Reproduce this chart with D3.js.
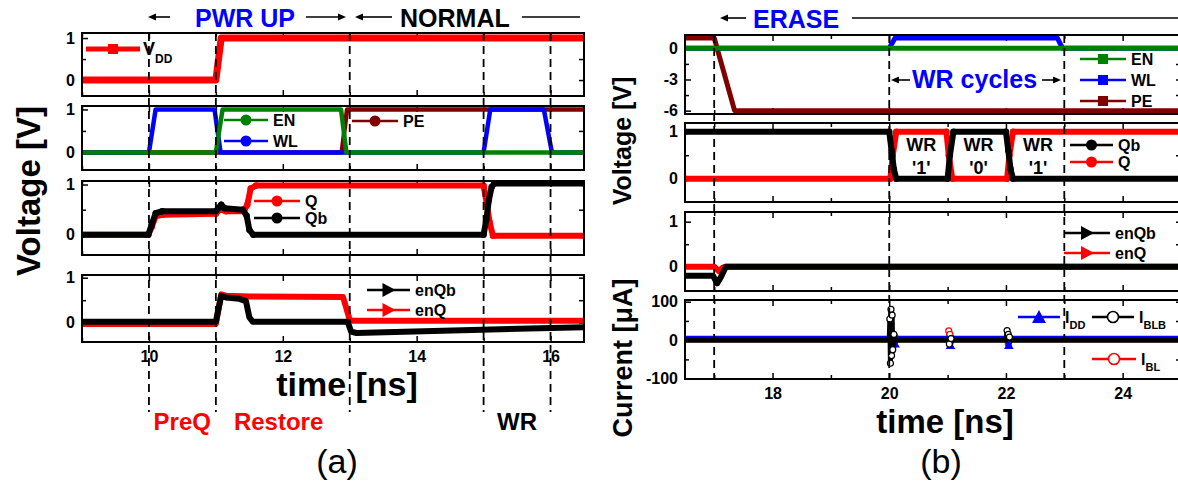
<!DOCTYPE html>
<html>
<head>
<meta charset="utf-8">
<script src="https://cdn.jsdelivr.net/npm/d3@7"></script>
<style>
  body { margin: 0; background: #fff; }
  text { font-family: "Liberation Sans", Arial, sans-serif; }
</style>
</head>
<body>
<svg id="chart" width="1178" height="484"></svg>
<script>
/* waveforms, [time ns, value] */

// (a) power-up / normal
var vddA   = [[9,0],[11.0,0],[11.08,1],[16.5,1]];
var wlA    = [[9,0],[10.0,0],[10.1,1],[10.98,1],[11.07,0],[15.0,0],[15.1,1],[15.9,1],[16.02,0],[16.5,0]];
var enA    = [[9,0],[11.0,0],[11.1,1],[12.87,1],[12.95,0],[16.5,0]];
var peA    = [[9,0],[12.88,0],[12.96,1],[16.5,1]];
var qA     = [[9,0],[9.99,0],[10.04,0.15],[10.1,0.37],[10.2,0.4],[11.0,0.42],[11.06,0.5],[11.15,0.47],[11.42,0.47],[11.47,0.6],[11.52,0.92],[11.6,0.98],[15.0,0.98],[15.05,0.6],[15.09,0.25],[15.14,-0.02],[16.5,-0.02]];
var qbA    = [[9,0],[9.99,0],[10.04,0.2],[10.1,0.43],[10.2,0.47],[11.0,0.47],[11.04,0.54],[11.08,0.6],[11.13,0.53],[11.4,0.5],[11.46,0.38],[11.5,0.1],[11.56,0],[15.0,0],[15.04,0.3],[15.08,0.7],[15.12,0.95],[15.16,1.02],[16.5,1.02]];
var enqbA  = [[9,0.02],[11.0,0.02],[11.08,0.6],[11.15,0.56],[11.35,0.53],[11.45,0.48],[11.5,0.12],[11.55,0.02],[12.97,0.02],[13.02,-0.2],[13.1,-0.23],[16.5,-0.1]];
var enqA   = [[9,-0.03],[11.0,-0.03],[11.08,0.63],[11.15,0.6],[11.5,0.58],[12.9,0.57],[13.0,0.06],[13.05,0.04],[16.5,0.04]];

// (b) erase / write cycles
var peB    = [[16.5,1],[17.0,1],[17.35,-6],[25,-6]];
var enB    = [[16.5,0],[25,0]];
var wlB    = [[16.5,0],[20.0,0],[20.1,1],[22.88,1],[22.97,0],[25,0]];
var qB     = [[16.5,0],[20.02,0],[20.06,0.5],[20.12,1],[20.98,1],[21.02,0.5],[21.08,0],[22.02,0],[22.06,0.5],[22.12,1],[25,1]];
var qbB    = [[16.5,1],[20.0,1],[20.04,0.6],[20.08,0.2],[20.12,0],[21.0,0],[21.04,0.5],[21.1,1],[22.0,1],[22.04,0.6],[22.08,0.2],[22.12,0],[25,0]];
var enqbB  = [[16.5,-0.2],[16.98,-0.2],[17.05,-0.37],[17.12,-0.22],[17.2,0],[25,0]];
var enqB   = [[16.5,0],[17.0,0],[17.08,-0.1],[17.15,-0.02],[17.2,0],[25,0]];
var iddB   = [[16.5,6],[20.06,6],[20.1,-12],[20.15,6],[21.0,6],[21.05,-16],[21.1,6],[22.0,6],[22.05,-16],[22.1,6],[25,6]];
var iblbB  = [[16.5,0],[20.0,0],[20.01,55],[20.02,-60],[20.03,80],[20.04,-40],[20.05,65],[20.06,-25],[20.08,15],[20.1,0],[21.0,0],[21.03,-10],[21.06,4],[21.1,0],[22.0,0],[22.02,25],[22.04,15],[22.06,8],[22.1,0],[25,0]];
var iblB   = [[16.5,0],[20.05,0],[20.07,-14],[20.1,8],[20.13,0],[21.0,0],[21.02,24],[21.04,15],[21.07,5],[21.1,0],[22.0,0],[22.04,-10],[22.08,0],[25,0]];

// ticks and markers
var xTicksA = [10, 12, 14, 16], xMinorA = [9, 11, 13, 15];
var xTicksB = [18, 20, 22, 24], xMinorB = [17, 19, 21, 23, 25];
var vTicks = [0, 1], vMinor = [0.5];
var peTicks = [0, -3, -6], peMinor = [-1.5, -4.5];
var iTicks = [-100, 0, 100], iMinor = [-50, 50];
var phaseA = [10, 11, 13, 15, 16];
var phaseB = [17, 20, 23];
var phaseLabels = ["PreQ", "Restore", "WR"];
var wrBits = ["'1'", "'0'", "'1'"];

var RED = "#ff0000", BLUE = "#0000ff", GREEN = "#008000", MAROON = "#800000", BLK = "#000";

var svg = d3.select("#chart");
var xA = d3.scaleLinear().domain([9, 16.5]).range([82, 584]);
var xB = d3.scaleLinear().domain([16.5, 25]).range([685, 1181]);
var clipN = 0;

function styleAxis(g, size) {
  g.attr("font-family", null).attr("font-size", null);
  g.selectAll("text").filter(function() { return this.textContent === ""; }).remove();
  g.selectAll("text").attr("font-size", size || 16).attr("font-weight", "bold").attr("fill", "#000");
  g.selectAll(".domain").remove();
  g.selectAll("line").attr("stroke", "#000").attr("stroke-width", 1.5);
}

// one framed panel with inward ticks; returns y scale and a clipped group
function panel(x, top, bottom, ydom, yt, ym, xt, xm, showX) {
  var y = d3.scaleLinear().domain(ydom).range([bottom, top]);
  var x0 = x.range()[0], x1 = x.range()[1];
  var fmt = function(d) { return String(d); };
  var g = svg.append("g");
  g.append("g").attr("transform", "translate(" + x0 + ",0)")
    .call(d3.axisLeft(y).tickValues(yt).tickSize(-6).tickSizeOuter(0).tickPadding(7).tickFormat(fmt)).call(styleAxis);
  g.append("g").attr("transform", "translate(" + x0 + ",0)")
    .call(d3.axisLeft(y).tickValues(ym).tickSize(-4).tickSizeOuter(0).tickFormat("")).call(styleAxis);
  g.append("g").attr("transform", "translate(" + x1 + ",0)")
    .call(d3.axisRight(y).tickValues(yt.concat(ym)).tickSize(-5).tickSizeOuter(0).tickFormat("")).call(styleAxis);
  g.append("g").attr("transform", "translate(0," + bottom + ")")
    .call(d3.axisBottom(x).tickValues(xt).tickSize(-6).tickSizeOuter(0).tickPadding(9).tickFormat(showX ? fmt : "")).call(styleAxis);
  g.append("g").attr("transform", "translate(0," + bottom + ")")
    .call(d3.axisBottom(x).tickValues(xm).tickSize(-4).tickSizeOuter(0).tickFormat("")).call(styleAxis);
  g.append("g").attr("transform", "translate(0," + top + ")")
    .call(d3.axisTop(x).tickValues(xt).tickSize(-6).tickSizeOuter(0).tickFormat("")).call(styleAxis);
  g.append("g").attr("transform", "translate(0," + top + ")")
    .call(d3.axisTop(x).tickValues(xm).tickSize(-4).tickSizeOuter(0).tickFormat("")).call(styleAxis);

  var id = "clip" + (clipN++);
  svg.append("clipPath").attr("id", id).append("rect")
    .attr("x", x0).attr("y", top).attr("width", x1 - x0).attr("height", bottom - top);
  var data = svg.append("g").attr("clip-path", "url(#" + id + ")");
  svg.append("rect").attr("x", x0).attr("y", top).attr("width", x1 - x0).attr("height", bottom - top)
    .attr("fill", "none").attr("stroke", "#000").attr("stroke-width", 2);
  return { y: y, g: data };
}

function trace(p, x, pts, color, w, dots) {
  var line = d3.line().x(function(d) { return x(d[0]); }).y(function(d) { return p.y(d[1]); });
  p.g.append("path").datum(pts).attr("d", line).attr("fill", "none")
    .attr("stroke", color).attr("stroke-width", w).attr("stroke-linejoin", "round");
  if (dots === "dot") {
    p.g.selectAll(null).data(pts).enter().append("circle")
      .attr("cx", function(d) { return x(d[0]); }).attr("cy", function(d) { return p.y(d[1]); })
      .attr("r", 3.2).attr("fill", color);
  } else if (dots === "ring") {
    p.g.selectAll(null).data(pts.filter(function(d) { return Math.abs(d[1]) > 1; })).enter().append("circle")
      .attr("cx", function(d) { return x(d[0]); }).attr("cy", function(d) { return p.y(d[1]); })
      .attr("r", 3).attr("fill", "#fff").attr("stroke", color).attr("stroke-width", 1.2);
  } else if (dots === "tri") {
    p.g.selectAll(null).data(pts.filter(function(d) { return Math.abs(d[1] - 6) > 1; })).enter().append("path")
      .attr("d", d3.symbol(d3.symbolTriangle, 40))
      .attr("transform", function(d) { return "translate(" + x(d[0]) + "," + p.y(d[1]) + ")"; })
      .attr("fill", color);
  }
}

function marker(g, type, cx, cy, color) {
  if (type === "square") {
    g.append("rect").attr("x", cx - 5).attr("y", cy - 5).attr("width", 10).attr("height", 10).attr("fill", color);
  } else if (type === "circle") {
    g.append("circle").attr("cx", cx).attr("cy", cy).attr("r", 5.5).attr("fill", color);
  } else if (type === "ring") {
    g.append("circle").attr("cx", cx).attr("cy", cy).attr("r", 5.5).attr("fill", "#fff").attr("stroke", color).attr("stroke-width", 1.6);
  } else if (type === "triR") {
    g.append("path").attr("d", "M" + (cx - 6) + "," + (cy - 7) + "L" + (cx + 7) + "," + cy + "L" + (cx - 6) + "," + (cy + 7) + "Z").attr("fill", color);
  } else if (type === "triU") {
    g.append("path").attr("d", "M" + (cx - 7) + "," + (cy + 6) + "L" + cx + "," + (cy - 7) + "L" + (cx + 7) + "," + (cy + 6) + "Z").attr("fill", color);
  }
}

function legend(x1, x2, y, color, type, label, sub, fs) {
  var g = svg.append("g");
  g.append("line").attr("x1", x1).attr("x2", x2).attr("y1", y).attr("y2", y)
    .attr("stroke", color).attr("stroke-width", type === "square" && x2 - x1 > 50 ? 5 : 2.5);
  marker(g, type, (x1 + x2) / 2, y, color);
  if (!label) return;
  var t = g.append("text").attr("x", x2 + 5).attr("y", y).attr("dy", "0.36em")
    .attr("font-size", fs || 16).attr("font-weight", "bold").text(label);
  if (sub) t.append("tspan").attr("font-size", 11).attr("dy", "0.55em").text(sub);
}

/* ---------- panel (a) ---------- */
var a1 = panel(xA, 33, 96, [-0.38, 1.12], vTicks, vMinor, xTicksA, xMinorA, false);
trace(a1, xA, vddA, RED, 7);

var a2 = panel(xA, 106, 170, [-0.41, 1.08], vTicks, vMinor, xTicksA, xMinorA, false);
trace(a2, xA, peA, MAROON, 4.5);
trace(a2, xA, wlA, BLUE, 4.5);
trace(a2, xA, enA, GREEN, 4.5);

var a3 = panel(xA, 181, 255, [-0.4, 1.07], vTicks, vMinor, xTicksA, xMinorA, false);
trace(a3, xA, qA, RED, 6, "dot");
trace(a3, xA, qbA, BLK, 6, "dot");

var a4 = panel(xA, 275, 342, [-0.43, 1.06], vTicks, vMinor, xTicksA, xMinorA, true);
trace(a4, xA, enqA, RED, 6);
trace(a4, xA, enqbA, BLK, 6);

/* ---------- panel (b) ---------- */
var b1 = panel(xB, 35, 114, [-6.32, 1.28], peTicks, peMinor, xTicksB, xMinorB, false);
trace(b1, xB, peB, MAROON, 5);
trace(b1, xB, wlB, BLUE, 5);
trace(b1, xB, enB, GREEN, 5);

var b2 = panel(xB, 123, 202, [-0.495, 1.185], vTicks, vMinor, xTicksB, xMinorB, false);
trace(b2, xB, qB, RED, 6, "dot");
trace(b2, xB, qbB, BLK, 6, "dot");

var b3 = panel(xB, 212, 291, [-0.54, 1.215], vTicks, vMinor, xTicksB, xMinorB, false);
trace(b3, xB, enqB, RED, 6);
trace(b3, xB, enqbB, BLK, 6);

var b4 = panel(xB, 300, 379, [-101, 104.4], iTicks, iMinor, xTicksB, xMinorB, true);
trace(b4, xB, iblB, RED, 4, "ring");
trace(b4, xB, iddB, BLUE, 4, "tri");
trace(b4, xB, iblbB, BLK, 5, "ring");

/* ---------- dashed phase markers ---------- */
phaseA.forEach(function(t) {
  svg.append("line").attr("x1", xA(t)).attr("x2", xA(t)).attr("y1", 33).attr("y2", 412)
    .attr("stroke", "#000").attr("stroke-width", 1.8).attr("stroke-dasharray", "8,5");
});
phaseB.forEach(function(t) {
  svg.append("line").attr("x1", xB(t)).attr("x2", xB(t)).attr("y1", 35).attr("y2", 379)
    .attr("stroke", "#000").attr("stroke-width", 1.8).attr("stroke-dasharray", "8,5");
});

/* ---------- legends ---------- */
legend(86, 140, 49, RED, "square", "", null);
svg.append("text").attr("x", 143).attr("y", 55).attr("font-size", 18).attr("font-weight", "bold")
  .text("V").append("tspan").attr("font-size", 12).attr("dy", 8).text("DD");
legend(224, 268, 120, GREEN, "circle", "EN");
legend(224, 268, 141, BLUE, "circle", "WL");
legend(352, 398, 121, MAROON, "circle", "PE");
legend(254, 300, 201, RED, "circle", "Q");
legend(254, 300, 218, BLK, "circle", "Qb");
legend(367, 410, 290, BLK, "triR", "enQb");
legend(367, 410, 310, RED, "triR", "enQ");

legend(1080, 1126, 59, GREEN, "square", "EN");
legend(1080, 1126, 80, BLUE, "square", "WL");
legend(1080, 1126, 101, MAROON, "square", "PE");
legend(1070, 1113, 145, BLK, "circle", "Qb");
legend(1070, 1113, 162, RED, "circle", "Q");
legend(1064, 1110, 233, BLK, "triR", "enQb");
legend(1064, 1110, 253, RED, "triR", "enQ");
legend(1018, 1060, 317, BLUE, "triU", "I", "DD");
legend(1092, 1134, 317, BLK, "ring", "I", "BLB");
legend(1092, 1136, 359, RED, "ring", "I", "BL");

/* ---------- annotations ---------- */
function arrow(x1, x2, y) {
  // arrowhead drawn at x2
  var dir = x2 > x1 ? 1 : -1;
  svg.append("line").attr("x1", x1).attr("x2", x2 - dir * 5).attr("y1", y).attr("y2", y)
    .attr("stroke", "#000").attr("stroke-width", 1.6);
  svg.append("path").attr("d", "M" + x2 + "," + y + "L" + (x2 - dir * 8) + "," + (y - 3.5) + "L" + (x2 - dir * 8) + "," + (y + 3.5) + "Z")
    .attr("fill", "#000");
}
function head(txt, x, y, color) {
  svg.append("text").attr("x", x).attr("y", y).attr("font-size", 25).attr("font-weight", "bold")
    .attr("fill", color).text(txt);
}
arrow(170, 148, 17); head("PWR UP", 195, 27, BLUE); arrow(306, 346, 17);
arrow(392, 355, 17); head("NORMAL", 400, 27, BLK);
svg.append("line").attr("x1", 522).attr("x2", 580).attr("y1", 17).attr("y2", 17).attr("stroke", "#000").attr("stroke-width", 1.6);

arrow(746, 720, 18); head("ERASE", 753, 28, BLUE);
svg.append("line").attr("x1", 852).attr("x2", 1178).attr("y1", 18).attr("y2", 18).attr("stroke", "#000").attr("stroke-width", 1.6);

arrow(910, 891, 80); head("WR cycles", 912, 88, BLUE); arrow(1042, 1061, 80);

wrBits.forEach(function(b, i) {
  var t = [20.55, 21.53, 22.55][i];
  svg.append("text").attr("x", xB(t)).attr("y", b2.y(0.72)).attr("dy", "0.36em").attr("text-anchor", "middle")
    .attr("font-size", 18).attr("font-weight", "bold").text("WR");
  svg.append("text").attr("x", xB(t)).attr("y", b2.y(0.24)).attr("dy", "0.36em").attr("text-anchor", "middle")
    .attr("font-size", 18).attr("font-weight", "bold").text(b);
});

svg.append("text").attr("x", xA(10.07)).attr("y", 430).attr("font-size", 24).attr("font-weight", "bold").attr("fill", RED).text(phaseLabels[0]);
svg.append("text").attr("x", xA(11.27)).attr("y", 430).attr("font-size", 24).attr("font-weight", "bold").attr("fill", RED).text(phaseLabels[1]);
svg.append("text").attr("x", xA(15.5)).attr("y", 430).attr("text-anchor", "middle").attr("font-size", 24).attr("font-weight", "bold").text(phaseLabels[2]);

// axis titles
svg.append("text").attr("x", 347).attr("y", 396).attr("text-anchor", "middle").attr("font-size", 34).attr("font-weight", "bold").text("time [ns]");
svg.append("text").attr("x", 945).attr("y", 433).attr("text-anchor", "middle").attr("font-size", 33).attr("font-weight", "bold").text("time [ns]");
svg.append("text").attr("transform", "translate(40,191) rotate(-90)").attr("text-anchor", "middle").attr("font-size", 33).attr("font-weight", "bold").text("Voltage [V]");
svg.append("text").attr("transform", "translate(631,141) rotate(-90)").attr("text-anchor", "middle").attr("font-size", 25).attr("font-weight", "bold").text("Voltage [V]");
svg.append("text").attr("transform", "translate(632,358) rotate(-90)").attr("text-anchor", "middle").attr("font-size", 27).attr("font-weight", "bold").text("Current [\u03bcA]");

svg.append("text").attr("x", 337).attr("y", 473).attr("text-anchor", "middle").attr("font-size", 34).text("(a)");
svg.append("text").attr("x", 941).attr("y", 473).attr("text-anchor", "middle").attr("font-size", 34).text("(b)");
</script>
</body>
</html>
